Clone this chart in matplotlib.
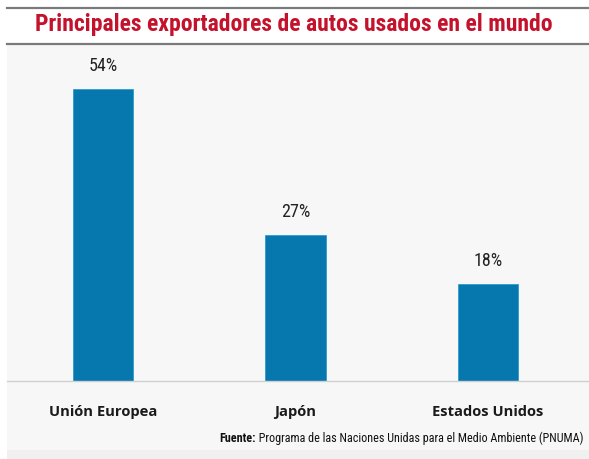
import matplotlib
matplotlib.use("Agg")
import matplotlib.pyplot as plt
from matplotlib.patches import Rectangle
from matplotlib.lines import Line2D

categories = ["Unión Europea", "Japón", "Estados Unidos"]
values = [54, 27, 18]
value_labels = ["54%", "27%", "18%"]
title = "Principales exportadores de autos usados en el mundo"
source_bold = "Fuente:"
source_rest = " Programa de las Naciones Unidas para el Medio Ambiente (PNUMA)"

W, H = 589, 459
fig = plt.figure(figsize=(W / 100, H / 100), dpi=100)
fig.patch.set_facecolor("white")

def fx(px):
    return px / W

def fy(py):
    return 1 - py / H

# light gray background below title
fig.patches.append(Rectangle((fx(7), 0), 1 - fx(7), fy(45), transform=fig.transFigure,
                             facecolor="#f7f7f7", edgecolor="none", zorder=-10))
fig.patches.append(Rectangle((fx(7), 0), 1 - fx(7), fy(450), transform=fig.transFigure,
                             facecolor="#f0f0f0", edgecolor="none", zorder=-9))

# title lines
for py in (8, 44):
    fig.add_artist(Line2D([fx(7), 1], [fy(py), fy(py)], transform=fig.transFigure,
                          color="#7a7a7a", lw=1.6))

fig.text(fx(294), fy(24), title, ha="center", va="center", color="#c4122c",
         fontsize=17, fontweight="bold", family=["Roboto Condensed", "DejaVu Sans"])

ax = fig.add_axes([fx(7), fy(381), 1 - fx(7), fy(45) - fy(381)])
ax.set_facecolor("none")
x = list(range(len(categories)))
ax.bar(x, values, width=0.312, color="#0678ae", edgecolor="#2a9fd0", linewidth=0.6, zorder=2)
ax.set_xlim(-0.499, 2.525)
ax.set_ylim(0, 336 / 5.41)
for xi, v, lab in zip(x, values, value_labels):
    ax.annotate(lab, (xi, v), xytext=(0, 10), textcoords="offset points",
                ha="center", va="bottom", fontsize=13, fontweight="normal",
                color="#222222", family="Roboto Condensed")
for s in ["top", "right", "left"]:
    ax.spines[s].set_visible(False)
ax.spines["bottom"].set_color("#d0d0d0")
ax.spines["bottom"].set_linewidth(1.0)
ax.set_yticks([])
ax.set_xticks(x)
ax.set_xticklabels(categories, fontsize=10.6, fontweight="bold",
                   family="Open Sans", color="#1a1a1a")
ax.tick_params(axis="x", length=0, pad=17)

t = fig.text(fx(583), fy(438), source_rest, ha="right", va="center", fontsize=8.75,
             family="Roboto Condensed", color="#111111")
fig.canvas.draw()
bb = t.get_window_extent()
fig.text(bb.x0 / W, fy(438), source_bold, ha="right", va="center", fontsize=8.75,
         fontweight="bold", family="Roboto Condensed", color="#111111")

fig.savefig("out.png", dpi=100)
